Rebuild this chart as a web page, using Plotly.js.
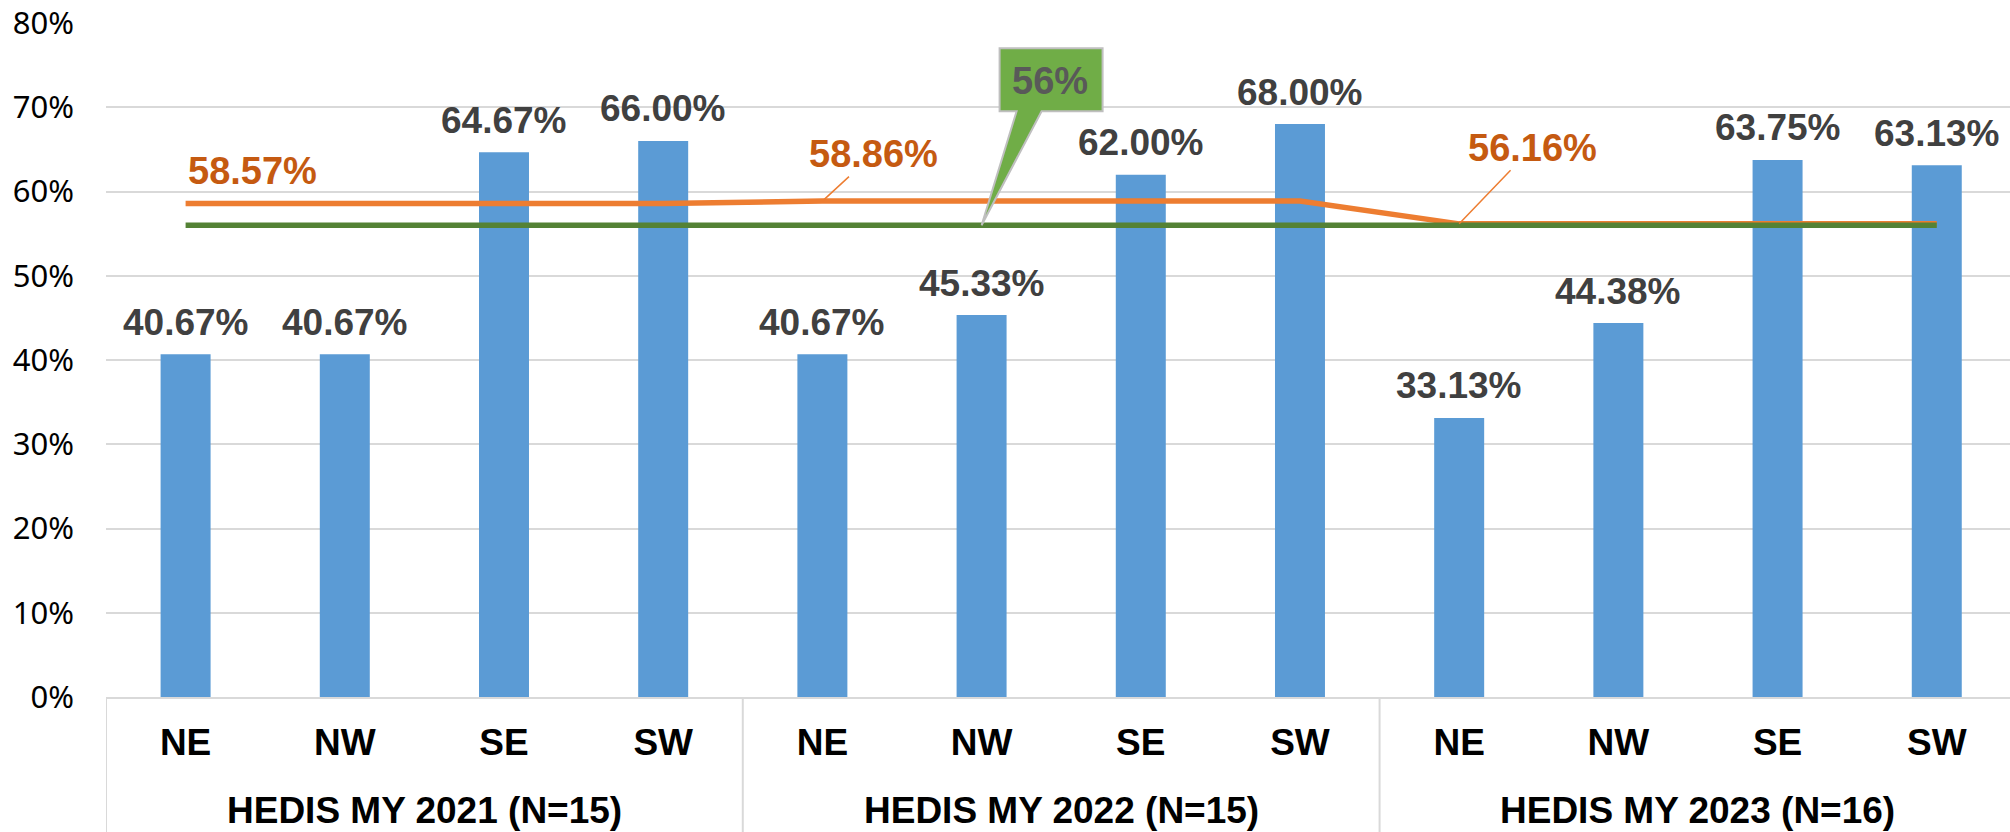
<!DOCTYPE html>
<html>
<head>
<meta charset="utf-8">
<script src="https://cdn.plot.ly/plotly-3.0.1.min.js"></script>
<style>html,body{margin:0;padding:0;background:#fff;}#chart{width:2010px;height:832px;}</style>
</head>
<body>
<div id="chart"></div>
<script>
// ---- data ----
const groupLabels = ['HEDIS MY 2021 (N=15)', 'HEDIS MY 2022 (N=15)', 'HEDIS MY 2023 (N=16)'];
const regionLabels = ['NE', 'NW', 'SE', 'SW'];
const rates2021 = [40.67, 40.67, 64.67, 66.00];
const rates2022 = [40.67, 45.33, 62.00, 68.00];
const rates2023 = [33.13, 44.38, 63.75, 63.13];
const overallRate = [58.57, 58.86, 56.16];
const goalRate = 56;
const yTickVals = [0, 10, 20, 30, 40, 50, 60, 70, 80];
const yTickText = ['0%', '10%', '20%', '30%', '40%', '50%', '60%', '70%', '80%'];

// ---- build traces ----
const yearRates = [rates2021, rates2022, rates2023];
const xIdx = [], barVals = [], tickText = [], overallLine = [], goalLine = [];
yearRates.forEach((arr, g) => {
  arr.forEach((v, r) => {
    xIdx.push(xIdx.length);
    barVals.push(v);
    tickText.push(regionLabels[r]);
    overallLine.push(overallRate[g]);
    goalLine.push(goalRate);
  });
});

const FONT = 'Liberation Sans, Arial, sans-serif';

const traces = [
  {type: 'bar', x: xIdx, y: barVals, width: 0.314,
   marker: {color: '#5B9BD5'}, hoverinfo: 'skip'},
  {type: 'scatter', mode: 'lines', x: xIdx, y: overallLine,
   line: {color: '#ED7D31', width: 5.5}, hoverinfo: 'skip'},
  {type: 'scatter', mode: 'lines', x: xIdx, y: goalLine,
   line: {color: '#548235', width: 5.5}, hoverinfo: 'skip'}
];

const annotations = [];
// value labels above bars
barVals.forEach((v, i) => {
  annotations.push({x: xIdx[i], y: v, xref: 'x', yref: 'y', text: v.toFixed(2) + '%',
    showarrow: false, yanchor: 'middle', yshift: 32,
    font: {family: FONT, size: 37, weight: 'bold', color: '#404040'}});
});
// overall-rate labels
const ORANGE_FONT = {family: FONT, size: 38, weight: 'bold', color: '#C55A11'};
annotations.push({x: 0, y: overallRate[0], xref: 'x', yref: 'y', text: overallRate[0].toFixed(2) + '%',
  showarrow: false, xanchor: 'left', yanchor: 'middle', yshift: 33, font: ORANGE_FONT});
annotations.push({x: 4, y: overallRate[1], xref: 'x', yref: 'y', text: overallRate[1].toFixed(2) + '%',
  showarrow: true, arrowhead: 0, arrowwidth: 1.5, arrowcolor: '#ED7D31', ax: 51, ay: -47, standoff: 0,
  font: ORANGE_FONT});
annotations.push({x: 8, y: overallRate[2], xref: 'x', yref: 'y', text: overallRate[2].toFixed(2) + '%',
  showarrow: true, arrowhead: 0, arrowwidth: 1.5, arrowcolor: '#ED7D31', ax: 73, ay: -76, standoff: 0,
  font: ORANGE_FONT});
// goal callout text
annotations.push({x: 5, y: goalRate, xref: 'x', yref: 'y', text: goalRate + '%', showarrow: false,
  xshift: 68, yshift: 144, yanchor: 'middle',
  font: {family: FONT, size: 38, weight: 'bold', color: '#595959'}});
// group labels
groupLabels.forEach((g, k) => {
  annotations.push({x: k * 4 + 1.5, y: 0, xref: 'x', yref: 'paper', text: g, showarrow: false,
    yanchor: 'middle', yshift: -113,
    font: {family: FONT, size: 37, weight: 'bold', color: '#000000'}});
});

const shapes = [];
// group dividers below the axis
for (let k = 0; k < groupLabels.length; k++) {
  shapes.push({type: 'line', xref: 'x', yref: 'paper', x0: k * 4 - 0.5, x1: k * 4 - 0.5, y0: 0, y1: -0.25,
    line: {color: '#D9D9D9', width: 2}});
}
// goal callout box with pointer to the goal line
shapes.push({type: 'path', xref: 'x', yref: 'y', xsizemode: 'pixel', ysizemode: 'pixel',
  xanchor: 5, yanchor: goalRate,
  path: 'M18,114 L35,114 L0,0 L60,114 L121,114 L121,177 L18,177 Z',
  fillcolor: '#70AD47', line: {color: '#BFBFBF', width: 2}, layer: 'above'});

const layout = {
  width: 2010, height: 832,
  margin: {l: 106, r: 0, t: 23, b: 135},
  paper_bgcolor: '#ffffff', plot_bgcolor: '#ffffff',
  showlegend: false,
  xaxis: {type: 'linear', range: [-0.5, 11.46], tickvals: xIdx, ticktext: tickText,
    showgrid: false, zeroline: false, showline: true, linecolor: '#D9D9D9', linewidth: 2,
    ticks: '', ticklabelstandoff: 12,
    tickfont: {family: FONT, size: 37, weight: 'bold', color: '#000000'}},
  yaxis: {range: [0, 80], tickvals: yTickVals, ticktext: yTickText,
    showgrid: true, gridcolor: '#D9D9D9', gridwidth: 2, zeroline: false, showline: false,
    ticks: '', ticklabelstandoff: 31,
    tickfont: {family: 'Noto Sans, Open Sans, sans-serif', size: 31, color: '#000000'}},
  annotations: annotations,
  shapes: shapes,
  hovermode: false
};

Plotly.newPlot('chart', traces, layout, {displayModeBar: false, staticPlot: true});
</script>
</body>
</html>
